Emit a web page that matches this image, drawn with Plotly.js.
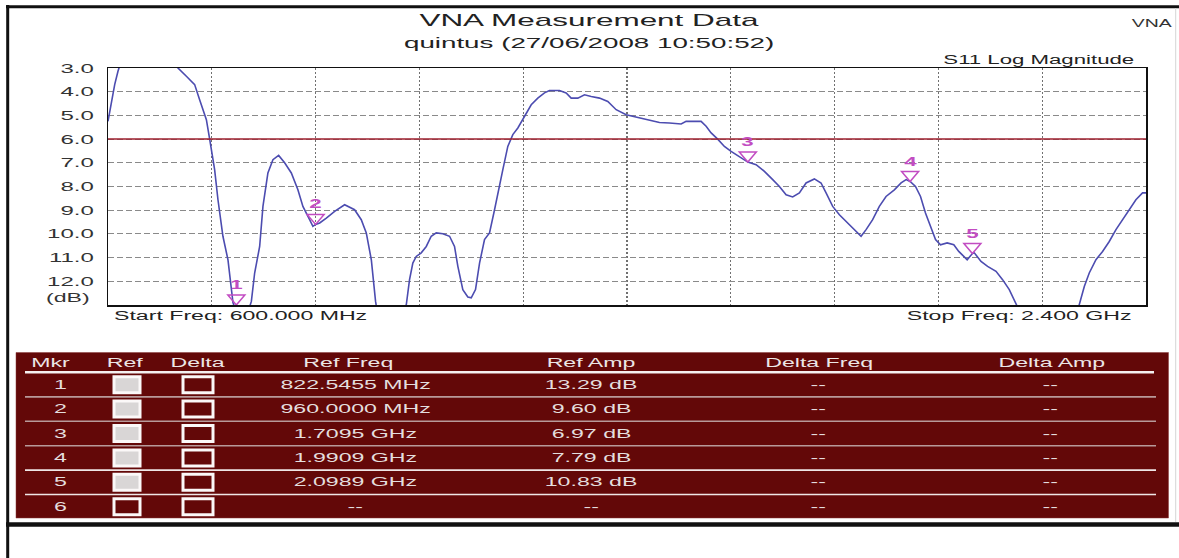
<!DOCTYPE html>
<html><head><meta charset="utf-8">
<script src="https://cdn.plot.ly/plotly-3.0.1.min.js"></script>
<style>html,body{margin:0;padding:0;background:#fff;overflow:hidden}#chart{width:1179px;height:558px}</style>
</head><body><div id="chart"></div>
<script>
// ---------- DATA ----------
const freqMHz = [600,605.9,611.6,617.3,620.3,635,655,680,700,712,721.3,735.9,750.3,758.9,770.6,776.3,784.9,790.7,799.3,808.0,813.9,816.7,822.5,830,840,848.6,854.3,863.0,868.7,877.3,886.0,895.9,906.3,917.9,929.3,938.0,949.6,955.3,960,967.1,978.6,993.0,1010.3,1027.6,1039.2,1047.9,1056.6,1062.3,1064.0,1075,1090,1105,1117.2,1122.9,1128.6,1134.5,1143.2,1151.9,1160.5,1169.2,1180.7,1192.3,1200.9,1206.7,1215.3,1224.0,1229.9,1237.3,1244.3,1252.9,1261.6,1270.3,1276.0,1284.7,1293.3,1302.0,1310.7,1319.3,1325.2,1333.9,1345.3,1356.9,1365.6,1382.9,1394.5,1403.2,1414.7,1426.3,1437.9,1452.3,1466.7,1481.2,1498.6,1515.9,1536.0,1556.3,1573.6,1593.9,1602.5,1628.5,1637.2,1645.9,1657.3,1668.9,1680.5,1694.9,1709.5,1723.9,1738.3,1752.7,1764.3,1775.9,1787.3,1798.9,1810.5,1824.9,1836.5,1845.2,1856.7,1868.3,1882.7,1894.3,1905.9,1914.6,1926.0,1937.6,1949.2,1963.6,1975.3,1984.0,1990.9,2000.3,2009.0,2017.6,2026.3,2035.0,2043.6,2055.2,2066.7,2075.3,2084.0,2089.9,2098.9,2102.3,2113.9,2125.3,2139.9,2151.3,2162.9,2171.6,2175.6,2195,2220,2240,2260,2275,2284.3,2293.0,2301.6,2313.2,2324.7,2336.3,2347.9,2359.3,2370.9,2382.5,2394.0,2400];
const s11Db = [5.25,4.48,3.7,3.14,2.9,2.3,2.0,1.9,2.2,2.6,3.0,3.35,3.7,4.34,5.18,6.0,7.29,8.56,10.1,11.09,12.35,12.9,13.29,13.6,13.5,12.85,11.65,10.53,8.84,7.43,6.87,6.69,7.0,7.43,8.14,8.84,9.4,9.68,9.60,9.54,9.33,9.05,8.77,8.98,9.4,9.96,11.09,12.49,12.85,14.5,16.0,14.5,13.0,11.93,11.23,10.95,10.8,10.53,10.1,9.96,9.99,10.1,10.53,11.37,12.35,12.66,12.7,12.35,11.23,10.24,9.96,8.98,8.27,7.29,6.31,5.81,5.53,5.18,4.9,4.55,4.27,4.05,3.95,3.95,4.05,4.27,4.27,4.13,4.2,4.27,4.41,4.76,4.97,5.07,5.18,5.3,5.32,5.36,5.25,5.25,5.46,5.74,6.0,6.31,6.52,6.73,6.97,7.08,7.36,7.71,8.0,8.35,8.44,8.27,7.85,7.68,7.85,8.27,8.84,9.19,9.54,9.82,10.1,9.82,9.4,8.84,8.42,8.14,7.85,7.71,7.79,8.0,8.42,9.12,9.68,10.24,10.46,10.38,10.46,10.74,10.95,11.09,10.83,10.8,11.16,11.37,11.58,11.93,12.35,12.77,13.0,14.2,15.5,16.0,15.0,13.8,13.0,12.22,11.65,11.09,10.74,10.32,9.82,9.4,8.98,8.56,8.27,8.27];

const markerIds = ['1','2','3','4','5'];
const markerFreqMHz = [822.5455, 960.0, 1709.5, 1990.9, 2098.9];
const markerAmpDb = [13.29, 9.60, 6.97, 7.79, 10.83];

const limitLineDb = 6.0;
const freqStartMHz = 600, freqStopMHz = 2400, freqGridStepMHz = 180;
const dbTop = 3, dbBottom = 13;
const yTickVals = [3,4,5,6,7,8,9,10,11,12];
const yTickText = ['3.0','4.0','5.0','6.0','7.0','8.0','9.0','10.0','11.0','12.0'];

const tableHeaders = ['Mkr','Ref','Delta','Ref Freq','Ref Amp','Delta Freq','Delta Amp'];
const tableMkr = ['1','2','3','4','5','6'];
const tableRefOn = [true,true,true,true,true,false];
const tableDeltaOn = [false,false,false,false,false,false];
const tableRefFreq = ['822.5455 MHz','960.0000 MHz','1.7095 GHz','1.9909 GHz','2.0989 GHz','--'];
const tableRefAmp = ['13.29 dB','9.60 dB','6.97 dB','7.79 dB','10.83 dB','--'];
const tableDeltaFreq = ['--','--','--','--','--','--'];
const tableDeltaAmp = ['--','--','--','--','--','--'];

// ---------- LAYOUT GEOMETRY ----------
const W = 1179, H = 558, L = 108, R = 1146, T = 68, B = 305;
const STRETCH = 1.85;
const FONT = 'Liberation Sans, Arial, sans-serif';
const px2x = p => (p - L) / (R - L);
const px2y = p => (B - p) / (B - T);
const MAG = '#c24cc2';

const annotations = [];
const shapes = [];
function txt(text, px, py, size, xanchor, color, extra) {
  annotations.push(Object.assign({
    text: text, xref: 'paper', yref: 'paper', x: px2x(px), y: px2y(py),
    xanchor: xanchor, yanchor: 'middle', align: xanchor, showarrow: false,
    font: {family: FONT, size: size, color: color}
  }, extra || {}));
}
function pline(x0, y0, x1, y1, color, width) {
  shapes.push({type: 'line', xref: 'paper', yref: 'paper', x0: px2x(x0), x1: px2x(x1), y0: px2y(y0), y1: px2y(y1),
    line: {color: color, width: width}, layer: 'above'});
}
function prect(x0, y0, x1, y1, fill, lineColor, lineWidth) {
  shapes.push({type: 'rect', xref: 'paper', yref: 'paper', x0: px2x(x0), x1: px2x(x1), y0: px2y(y1), y1: px2y(y0),
    fillcolor: fill, line: {color: lineColor, width: lineWidth}, layer: 'above'});
}

// headings
txt('quintus (27/06/2008 10:50:52)', 589, 43, 15, 'center', '#222');
txt('VNA', 1174, 23, 10.5, 'right', '#333');
txt('S11 Log Magnitude', 1137, 59.5, 12, 'right', '#222');
txt('Start Freq: 600.000 MHz', 112, 316, 12.5, 'left', '#222');
txt('Stop Freq: 2.400 GHz', 1134, 316, 12.5, 'right', '#222');
txt('(dB)', 92, 297.5, 12.5, 'right', '#333');

// limit line
shapes.push({type: 'line', xref: 'paper', yref: 'y', x0: 0, x1: 1, y0: limitLineDb, y1: limitLineDb,
  line: {color: '#9e1f2e', width: 1.5}, layer: 'above'});

// markers: triangles anchored at the trace value (clamped to axis), numbers above
markerIds.forEach((id, i) => {
  const yv = Math.min(markerAmpDb[i], dbBottom);
  shapes.push({type: 'path', xref: 'x', yref: 'y', xsizemode: 'pixel', ysizemode: 'pixel',
    xanchor: markerFreqMHz[i], yanchor: yv, path: 'M-8.5,10 L8.5,10 L0,0 Z',
    line: {color: MAG, width: 1.5}, fillcolor: 'rgba(0,0,0,0)', layer: 'above'});
  annotations.push({text: '<b>' + id + '</b>', xref: 'x', yref: 'y', x: markerFreqMHz[i], y: yv,
    yshift: 20, xanchor: 'center', yanchor: 'middle', align: 'center', showarrow: false,
    font: {family: FONT, size: 12, color: MAG}});
});

// frame
pline(7.7, 5, 7.7, 558, '#111', 3);
pline(6, 6.7, 1179, 6.7, '#111', 3);
pline(6, 524.5, 1179, 524.5, '#111', 4.5);
pline(1175.7, 8, 1175.7, 522, '#d6d6d6', 1);

// marker table
prect(16, 352.5, 1168.5, 518, '#630808', '#8a3a3a', 0.5);
const colHeaderX = [50, 124.5, 197, 348.5, 591, 819, 1051.5];
tableHeaders.forEach((h, i) => txt(h, colHeaderX[i], 363, 12.5, 'center', '#ece6e6'));
pline(25, 372.3, 1154, 372.3, '#f4f0f0', 2.5);
const rowY0 = 384.7, rowH = 24.4;
const sepColors = ['#b89a9a', '#b89a9a', '#b89a9a', '#efe6e6', '#efe6e6'];
for (let i = 0; i < 5; i++) {
  const y = rowY0 + (i + 0.5) * rowH;
  pline(25, y, 1156, y, sepColors[i], 1.6);
}
tableMkr.forEach((m, i) => {
  const y = rowY0 + i * rowH;
  txt(m, 60, y, 12.5, 'center', '#e4dede');
  prect(114, y - 8, 140, y + 8, tableRefOn[i] ? '#d9d6d6' : 'rgba(0,0,0,0)', '#fbf8f8', 3);
  prect(183, y - 8, 213, y + 8, tableDeltaOn[i] ? '#d9d6d6' : 'rgba(0,0,0,0)', '#fbf8f8', 3);
  txt(tableRefFreq[i], 355, y, 12.5, 'center', '#e4dede');
  txt(tableRefAmp[i], 591, y, 12.5, 'center', '#e4dede');
  txt(tableDeltaFreq[i], 818, y, 12.5, 'center', '#e4dede');
  txt(tableDeltaAmp[i], 1050, y, 12.5, 'center', '#e4dede');
});

const data = [{
  type: 'scatter', mode: 'lines', x: freqMHz, y: s11Db,
  line: {color: '#4c4cb0', width: 1.6}, hoverinfo: 'skip', showlegend: false
}];

const layout = {
  width: W, height: H,
  margin: {l: L, r: W - R, t: T, b: H - B, pad: 0},
  paper_bgcolor: '#ffffff', plot_bgcolor: '#ffffff',
  showlegend: false,
  title: {text: 'VNA Measurement Data', font: {family: FONT, size: 17, color: '#222'},
    xref: 'container', x: 589 / W, xanchor: 'center', yref: 'container', y: 1 - 20 / H, yanchor: 'middle'},
  xaxis: {range: [freqStartMHz, freqStopMHz], tickmode: 'linear', tick0: freqStartMHz, dtick: freqGridStepMHz,
    showticklabels: false, ticks: '', showgrid: true, gridcolor: '#707070', gridwidth: 1.2, griddash: '2px,2px',
    zeroline: false, showline: true, mirror: true, linecolor: '#111', linewidth: 1.5, fixedrange: true},
  yaxis: {range: [dbBottom, dbTop], tickmode: 'array', tickvals: yTickVals, ticktext: yTickText,
    ticks: '', ticklabelstandoff: 10, tickfont: {family: FONT, size: 13, color: '#333'},
    showgrid: true, gridcolor: '#8a8a8a', gridwidth: 1, griddash: '6px,3px',
    zeroline: false, showline: true, mirror: true, linecolor: '#111', linewidth: 1.5, fixedrange: true},
  shapes: shapes,
  annotations: annotations
};

const gd = document.getElementById('chart');
Plotly.newPlot(gd, data, layout, {displayModeBar: false, staticPlot: true}).then(() => {
  // the reference image is horizontally stretched: widen the glyphs to match
  gd.querySelectorAll('svg text').forEach(t => {
    const len = t.getComputedTextLength();
    if (len > 0) {
      t.setAttribute('textLength', (len * STRETCH).toFixed(1));
      t.setAttribute('lengthAdjust', 'spacingAndGlyphs');
    }
  });
});
</script>
</body></html>
